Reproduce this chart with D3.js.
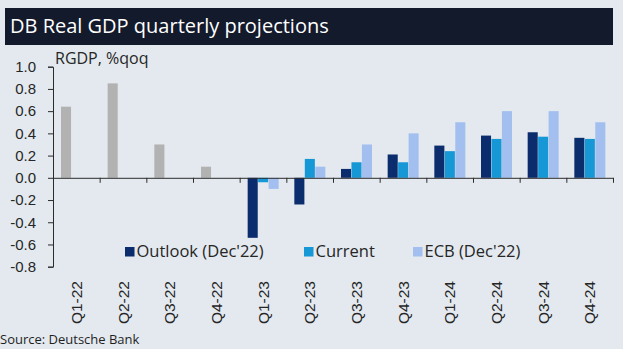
<!DOCTYPE html>
<html>
<head>
<meta charset="utf-8">
<script src="https://cdn.jsdelivr.net/npm/d3@7"></script>
<style>
  html, body { margin: 0; padding: 0; background: #e3e9ee; }
  svg { display: block; font-family: "Open Sans", "Noto Sans", sans-serif; }
</style>
</head>
<body>
<div id="chart"></div>
<script>
// quarters on the x axis
const quarters = ['Q1-22', 'Q2-22', 'Q3-22', 'Q4-22', 'Q1-23', 'Q2-23', 'Q3-23', 'Q4-23', 'Q1-24', 'Q2-24', 'Q3-24', 'Q4-24'];
// realised growth (grey), then the three projections
const actual = [0.64, 0.85, 0.30, 0.10, null, null, null, null, null, null, null, null];
const outlook = [null, null, null, null, -0.54, -0.24, 0.08, 0.21, 0.29, 0.38, 0.41, 0.36];
const current = [null, null, null, null, -0.04, 0.17, 0.14, 0.14, 0.24, 0.35, 0.37, 0.35];
const ecb = [null, null, null, null, -0.10, 0.10, 0.30, 0.40, 0.50, 0.60, 0.60, 0.50];
const yTicks = [1.0, 0.8, 0.6, 0.4, 0.2, 0.0, -0.2, -0.4, -0.6, -0.8];
const seriesNames = ['Outlook (Dec\'22)', 'Current', 'ECB (Dec\'22)'];

const W = 623, H = 349;
const colors = { outlook: '#0b2c6d', current: '#1798d6', ecb: '#a3bff0', actual: '#b2b2b2' };
const tickFont = '"Liberation Sans", Arial, sans-serif';

const svg = d3.select('#chart').append('svg')
  .attr('width', W).attr('height', H);

svg.append('rect').attr('width', W).attr('height', H).attr('fill', '#e3e9ee');

// title bar
svg.append('rect')
  .attr('x', 5).attr('y', 8).attr('width', 608).attr('height', 37)
  .attr('fill', '#131a2c');
svg.append('text')
  .attr('x', 10).attr('y', 32.5)
  .attr('fill', '#ffffff')
  .attr('font-size', 20)
  .text('DB Real GDP quarterly projections');

// scales
const y = d3.scaleLinear().domain([-0.8, 1.0]).range([266.7, 66.7]);
const x = d3.scaleBand().domain(quarters).range([53, 613]).padding(0);
const inner = d3.scaleBand().domain(['outlook', 'current', 'ecb']).range([8, 39]).paddingInner(0.04);
const edge = d3.scaleLinear().domain([0, quarters.length]).range([53, 613]);

const fmt = v => d3.format('.1f')(v).replace('\u2212', '-');

// y axis
const yAxis = svg.append('g')
  .attr('transform', 'translate(53,0)')
  .call(d3.axisLeft(y).tickValues(yTicks).tickFormat(fmt).tickSize(5).tickSizeOuter(5));
yAxis.select('.domain').attr('stroke', '#2b2b2b');
yAxis.selectAll('.tick line').attr('stroke', '#2b2b2b');
yAxis.selectAll('.tick text')
  .attr('font-size', 15).attr('fill', '#262626').attr('x', -17)
  .attr('font-family', tickFont);

svg.append('text')
  .attr('x', 55).attr('y', 64)
  .attr('font-size', 16).attr('fill', '#262626')
  .text('RGDP, %qoq');

// bars
const groups = [
  { key: 'actual', slot: 'outlook', values: actual },
  { key: 'outlook', slot: 'outlook', values: outlook },
  { key: 'current', slot: 'current', values: current },
  { key: 'ecb', slot: 'ecb', values: ecb }
];
groups.forEach(g => {
  svg.append('g').selectAll('rect')
    .data(quarters.map((q, i) => ({ q, v: g.values[i] })).filter(d => d.v !== null))
    .join('rect')
    .attr('x', d => x(d.q) + inner(g.slot))
    .attr('width', inner.bandwidth())
    .attr('y', d => y(Math.max(0, d.v)))
    .attr('height', d => Math.abs(y(d.v) - y(0)))
    .attr('fill', colors[g.key]);
});

// x axis along zero, ticks at quarter boundaries
const xAxis = svg.append('g')
  .attr('transform', `translate(0,${y(0)})`)
  .call(d3.axisBottom(edge).tickValues(d3.range(1, quarters.length + 1)).tickFormat('').tickSize(5).tickSizeOuter(0));
xAxis.select('.domain').attr('stroke', '#2b2b2b');
xAxis.selectAll('.tick line').attr('stroke', '#2b2b2b');

// quarter labels at the bottom
const labels = svg.append('g')
  .attr('transform', 'translate(0,281)')
  .call(d3.axisBottom(x).tickSize(0));
labels.select('.domain').remove();
labels.selectAll('.tick text')
  .attr('font-size', 15.5).attr('fill', '#262626')
  .attr('font-family', tickFont)
  .attr('transform', 'rotate(-90)')
  .attr('text-anchor', 'end')
  .attr('x', 0).attr('y', 0).attr('dy', '0.36em');

// legend
const legendX = [125, 304, 413];
const legendColors = [colors.outlook, colors.current, colors.ecb];
const legend = svg.append('g');
seriesNames.forEach((name, i) => {
  legend.append('rect')
    .attr('x', legendX[i]).attr('y', 247).attr('width', 9.5).attr('height', 9.5)
    .attr('fill', legendColors[i]);
  legend.append('text')
    .attr('x', legendX[i] + 11.5).attr('y', 257)
    .attr('font-size', 16.5).attr('fill', '#262626')
    .text(name);
});

svg.append('text')
  .attr('x', 0).attr('y', 344)
  .attr('font-size', 13).attr('fill', '#1f1f1f')
  .text('Source: Deutsche Bank');
</script>
</body>
</html>
